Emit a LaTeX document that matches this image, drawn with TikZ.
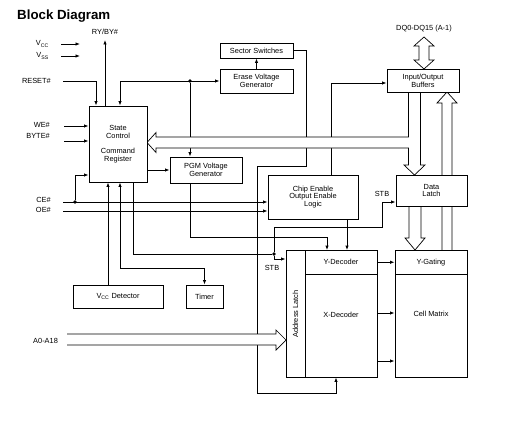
\documentclass[tikz,border=0pt]{standalone}
\usepackage{fontspec}
\setmainfont{Liberation Sans}
\usetikzlibrary{arrows.meta,calc,backgrounds}
\newcommand\lblfont{\fontsize{7.4}{7.9}\selectfont}
\tikzset{
  blk/.style={draw, fill=white, line width=0.8pt, inner sep=0pt, font=\lblfont, align=center},
  lbl/.style={inner sep=0pt, font=\lblfont, align=center},
  ln/.style={line width=0.8pt},
  arr/.style={ln, -{Latex[length=4.5pt,width=3.4pt]}},
  arrb/.style={ln, {Latex[length=4.5pt,width=3.4pt]}-{Latex[length=4.5pt,width=3.4pt]}},
  bus/.style={draw, fill=white, line width=0.7pt, line join=miter},
  dotm/.style={circle, fill, inner sep=0pt, minimum size=3.6pt},
}
\begin{document}
\begin{tikzpicture}[x=1pt,y=-1pt]
\useasboundingbox (0,0) rectangle (517,436);
% title
\node[inner sep=0pt, font=\fontsize{13.3}{14}\selectfont\bfseries, anchor=west] (title) at (17,16) {Block Diagram};
% labels
\node[lbl, anchor=east] (vcc) at (49,44) {V\textsubscript{CC}};
\node[lbl, anchor=east] (vss) at (49,56) {V\textsubscript{SS}};
\node[lbl] (ry) at (105,32) {RY/BY\#};
\node[lbl, anchor=east] (reset) at (51,81) {RESET\#};
\node[lbl, anchor=east] (we) at (50,125) {WE\#};
\node[lbl, anchor=east] (byte) at (50,136) {BYTE\#};
\node[lbl, anchor=east] (cel) at (51,200) {CE\#};
\node[lbl, anchor=east] (oel) at (51,210) {OE\#};
\node[lbl, anchor=west] (addr) at (33,341) {A0-A18};
\node[lbl] (dq) at (424,29) {DQ0-DQ15 (A-1)};
\node[lbl] (stb1) at (382,194) {STB};
\node[lbl] (stb2) at (272,268) {STB};
% blocks
\node[blk, minimum width=73pt, minimum height=15pt] (sec) at (256.5,50.5) {Sector Switches};
\node[blk, minimum width=73pt, minimum height=24pt] (erase) at (256.5,81) {Erase Voltage\\Generator};
\node[blk, minimum width=58pt, minimum height=76pt] (sc) at (118,144) {State\\Control\\[7pt]Command\\Register};
\node[blk, minimum width=72pt, minimum height=26pt] (pgm) at (206,170) {PGM Voltage\\Generator};
\node[blk, minimum width=72pt, minimum height=23pt] (io) at (423,80.5) {Input/Output\\Buffers};
\node[blk, minimum width=90pt, minimum height=44pt] (ce) at (313,197) {Chip Enable\\Output Enable\\Logic};
\node[blk, minimum width=71pt, minimum height=31pt] (dl) at (431.5,190.5) {Data\\Latch};
\node[blk, minimum width=19pt, minimum height=126.5pt] (al) at (295.5,314) {};
\node[lbl, rotate=90] (altxt) at (al.center) {Address Latch};
\node[blk, minimum width=72pt, minimum height=23.5pt] (yd) at (341,262.25) {Y-Decoder};
\node[blk, minimum width=72pt, minimum height=103pt] (xd) at (341,325.5) {};
\node[lbl] (xdtxt) at (341,315) {X-Decoder};
\node[blk, minimum width=72pt, minimum height=23.5pt] (yg) at (431,262.25) {Y-Gating};
\node[blk, minimum width=72pt, minimum height=103pt] (cm) at (431,325.5) {};
\node[lbl] (cmtxt) at (431,314) {Cell Matrix};
\node[blk, minimum width=90pt, minimum height=23pt] (vd) at (118,296.5) {V\textsubscript{CC} Detector};
\node[blk, minimum width=37pt, minimum height=23pt] (tm) at (204.5,296.5) {Timer};
% junction dots
\node[dotm] (d1) at (190,0 |- erase.west) {};
\node[dotm] (d2) at (75,202) {};
\node[dotm] (d3) at (274,254) {};
% free ends
\coordinate (vccS) at (61,44);
\coordinate (vssS) at (61,56);
\coordinate (resS) at (63,81);
\coordinate (weS) at (64,126);
\coordinate (byS) at (64,141);
\coordinate (ceS) at (63,202);
\coordinate (oeS) at (63,211);
\begin{pgfonlayer}{background}
% supply pins
\draw[arr] (vccS) -- ++(19,0);
\draw[arr] (vssS) -- ++(19,0);
% RY/BY#
\draw[arr] (105,0 |- sc.north) -- ($(ry.south)+(0,5)$);
% RESET#
\draw[arr] (resS) -| (96,0 |- sc.north);
% state control <-> erase voltage generator
\draw[arrb] (120,0 |- sc.north) |- (erase.west);
\draw[arr] (d1) -- (d1 |- pgm.north);
% erase -> sector switches
\draw[arr] (erase.north) -- (sec.south);
% sector switches -> X-decoder
\draw[arr] (sec.east) -- (306,0 |- sec.east) -- (306,166) -- (257,166) -- (257,393) -- (336,393) -- (336,0 |- xd.south);
% state control -> PGM
\draw[arr] (sc.east |- pgm.west) -- (pgm.west);
% PGM -> Y-decoder
\draw[arr] (190,0 |- pgm.south) -- (190,237) -- (327,237) -- (327,0 |- yd.north);
% chip enable -> Y-decoder
\draw[arr] (347,0 |- ce.south) -- (347,0 |- yd.north);
% chip enable -> I/O buffers
\draw[arr] (331,0 |- ce.north) -- (331,83) -- (io.west |- 0,83);
% CE#, OE#
\draw[arr] (ceS) -- (ce.west |- ceS);
\draw[arr] (oeS) -- (ce.west |- oeS);
\draw[arr] (d2) |- (sc.west |- 0,175);
% WE#, BYTE#
\draw[arr] (weS) -- (sc.west |- weS);
\draw[arr] (byS) -- (sc.west |- byS);
% Vcc detector -> state control
\draw[arr] (108,0 |- vd.north) -- (108,0 |- sc.south);
% state control <-> timer
\draw[arrb] (120,0 |- sc.south) -- (120,268) -| (tm.north);
% STB
\draw[ln] (133,0 |- sc.south) |- (d3);
\draw[arr] (d3) -- (274,227) -- (382,227) |- (dl.west |- 0,202);
\draw[arr] (d3) |- (al.west |- 0,259);
% decoders -> gating/matrix
\draw[arr] (yd.east) -- (yg.west |- yd.east);
\draw[arr] (xd.east |- 0,313) -- (cm.west |- 0,313);
\draw[arr] (xd.east |- 0,361) -- (cm.west |- 0,361);
% hollow buses
\path[bus] (408.5,92) -- (408.5,137) -- (156,137) -- (156,132.5) -- (147,142.5) -- (156,152.5) -- (156,148) -- (408.5,148) -- (408.5,165) -- (404,165) -- (414.5,175) -- (425,165) -- (420.5,165) -- (420.5,92);
\path[bus] (409,206) -- (409,238) -- (405,238) -- (415,250) -- (425,238) -- (421,238) -- (421,206);
\path[bus] (442,250) -- (442,103) -- (437,103) -- (447,92) -- (457,103) -- (452,103) -- (452,250);
\path[bus] (424,37) -- (434,46) -- (429,46) -- (429,60) -- (434,60) -- (424,69) -- (414,60) -- (419,60) -- (419,46) -- (414,46) -- cycle;
\path[bus] (67,334) -- (276,334) -- (276,330) -- (286,340) -- (276,350) -- (276,345) -- (67,345);
\end{pgfonlayer}
\end{tikzpicture}
\end{document}
